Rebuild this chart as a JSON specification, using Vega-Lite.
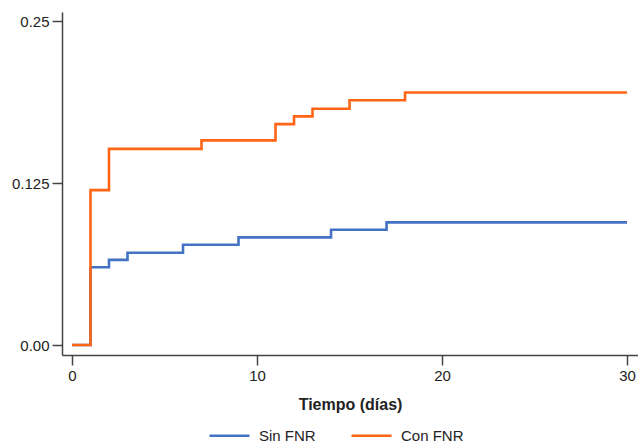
{
  "$schema": "https://vega.github.io/schema/vega-lite/v6.json",
  "autosize": {"type": "none"},
  "padding": {"left": 62, "top": 12, "right": 0, "bottom": 89},
  "width": 576,
  "height": 343,
  "background": "white",
  "config": {
    "view": {"stroke": null},
    "font": "Liberation Sans, Arial, sans-serif"
  },
  "data": {
    "values": [
      {"g": "Sin FNR", "t": 0, "y": 0},
      {"g": "Sin FNR", "t": 1, "y": 0.06},
      {"g": "Sin FNR", "t": 2, "y": 0.0657},
      {"g": "Sin FNR", "t": 3, "y": 0.0712},
      {"g": "Sin FNR", "t": 6, "y": 0.0774},
      {"g": "Sin FNR", "t": 9, "y": 0.0831},
      {"g": "Sin FNR", "t": 14, "y": 0.089},
      {"g": "Sin FNR", "t": 17, "y": 0.0947},
      {"g": "Sin FNR", "t": 30, "y": 0.0947},
      {"g": "Con FNR", "t": 0, "y": 0},
      {"g": "Con FNR", "t": 1, "y": 0.1196},
      {"g": "Con FNR", "t": 2, "y": 0.1514},
      {"g": "Con FNR", "t": 7, "y": 0.158},
      {"g": "Con FNR", "t": 11, "y": 0.1705},
      {"g": "Con FNR", "t": 12, "y": 0.1765},
      {"g": "Con FNR", "t": 13, "y": 0.1824},
      {"g": "Con FNR", "t": 15, "y": 0.189},
      {"g": "Con FNR", "t": 18, "y": 0.195},
      {"g": "Con FNR", "t": 30, "y": 0.195}
    ]
  },
  "mark": {"type": "line", "interpolate": "step-after", "strokeWidth": 2.6},
  "encoding": {
    "x": {
      "field": "t", "type": "quantitative",
      "scale": {"domain": [-0.54, 30.59], "nice": false, "zero": false},
      "axis": {
        "values": [0, 10, 20, 30],
        "title": "Tiempo (días)",
        "grid": false,
        "domainColor": "#444", "domainWidth": 1.5,
        "tickColor": "#444", "tickWidth": 1.5, "tickSize": 10,
        "labelFontSize": 15, "labelColor": "#222", "labelPadding": 3,
        "titleFontSize": 16, "titleFontWeight": "bold", "titleColor": "#222", "titlePadding": 13
      }
    },
    "y": {
      "field": "y", "type": "quantitative",
      "scale": {"domain": [-0.0077, 0.2571], "nice": false, "zero": false},
      "axis": {
        "values": [0, 0.125, 0.25],
        "format": ".3~f",
        "labelExpr": "datum.value == 0 ? '0.00' : datum.label",
        "title": null,
        "grid": false,
        "domainColor": "#444", "domainWidth": 1.5,
        "tickColor": "#444", "tickWidth": 1.5, "tickSize": 10,
        "labelFontSize": 15, "labelColor": "#222", "labelPadding": 3
      }
    },
    "color": {
      "field": "g", "type": "nominal",
      "sort": ["Sin FNR", "Con FNR"],
      "scale": {"domain": ["Sin FNR", "Con FNR"], "range": ["#4472C4", "#FF6514"]},
      "legend": {
        "title": null,
        "orient": "none",
        "direction": "horizontal",
        "legendX": 146,
        "legendY": 402,
        "symbolType": "stroke",
        "symbolSize": 1600,
        "symbolStrokeWidth": 2.6,
        "labelFontSize": 15,
        "labelColor": "#222",
        "labelOffset": 8,
        "columnPadding": 30
      }
    }
  }
}
